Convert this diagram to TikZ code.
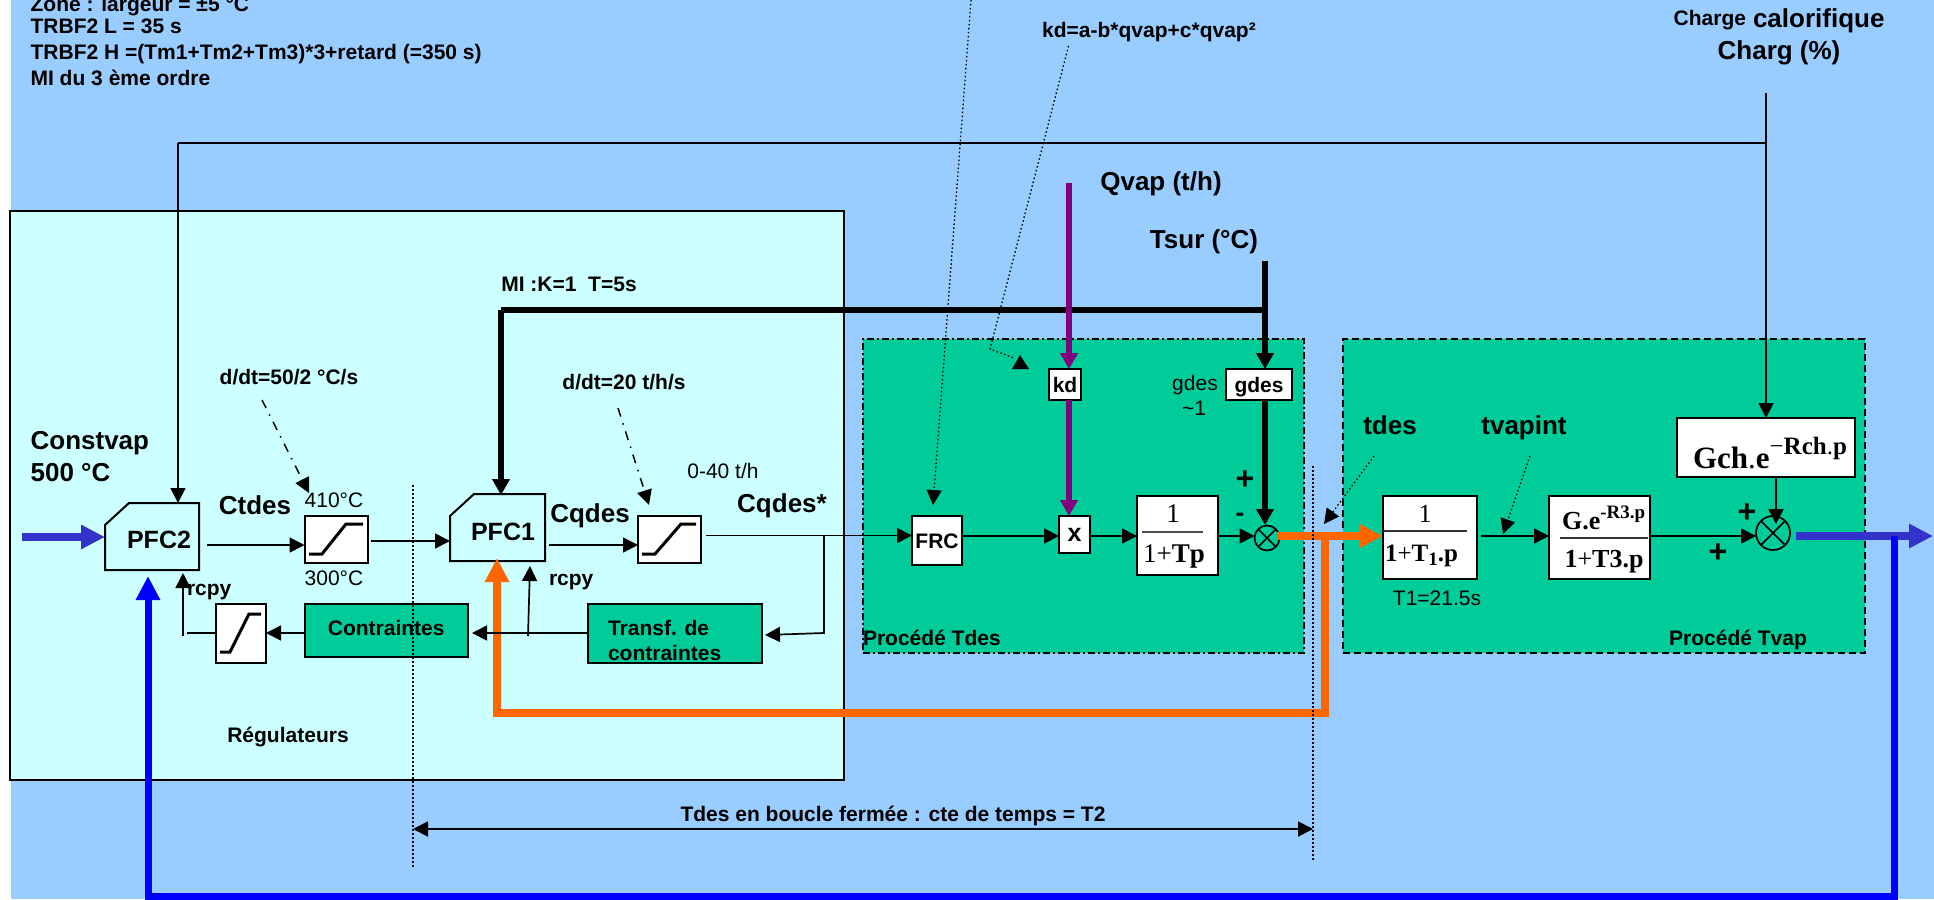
\documentclass[tikz,border=0pt]{standalone}
\usepackage{fontspec}
\setmainfont{Liberation Sans}
\newfontfamily\srf{Liberation Serif}
\usetikzlibrary{arrows.meta}
\definecolor{bgblue}{HTML}{99CCFF}
\definecolor{regcyan}{HTML}{CCFFFF}
\definecolor{procgreen}{HTML}{00CC99}
\definecolor{inblue}{HTML}{3333CC}
\definecolor{fbblue}{HTML}{0000FF}
\definecolor{orangeline}{HTML}{FF6600}
\definecolor{purpleline}{HTML}{800080}
\newcommand{\fs}[1]{\fontsize{#1}{#1}\selectfont}
\tikzset{
  x=1pt,y=-1pt,
  every node/.style={inner sep=0pt,outer sep=0pt},
  lab/.style={font=\fs{21}\bfseries,text height=15pt,text depth=0pt},
  big/.style={font=\fs{26}\bfseries,text height=19pt,text depth=0pt},
  reg/.style={font=\fs{21},text height=15pt,text depth=0pt},
  serif/.style={font=\fs{27}\srf,text height=18pt,text depth=0pt},
  sign/.style={font=\fs{32}\bfseries,text height=20pt,text depth=0pt},
  wbox/.style={draw=black,line width=2pt,fill=white},
  gbox/.style={draw=black,line width=2pt,fill=procgreen},
  thinar/.style={draw=black,line width=1.7pt,-{Triangle[length=15pt,width=15pt]}},
  thinln/.style={draw=black,line width=1.7pt},
  thickar/.style={draw=black,line width=5.5pt,-{Triangle[length=16pt,width=17pt]}},
  thickln/.style={draw=black,line width=5.5pt},
  purplear/.style={draw=purpleline,fill=purpleline,line width=6pt,-{Triangle[length=16pt,width=17pt]}},
  heavyar/.style={line width=8pt,-{Triangle[length=24pt,width=23pt]}},
  dotln/.style={draw=black,line width=1.3pt,dash pattern=on 1.5pt off 2.5pt},
  dotar/.style={dotln,-{Triangle[length=15pt,width=15pt]}},
  dashdotar/.style={draw=black,line width=1.5pt,dash pattern=on 9pt off 7pt on 1.5pt off 7pt,-{Triangle[length=15pt,width=15pt]}},
  rampline/.style={draw=black,line width=3pt},
  sumc/.style={draw=black,line width=1.7pt,circle},
}
\begin{document}
\begin{tikzpicture}
\useasboundingbox (0,0) rectangle (1934,899);
\fill[white] (0,0) rectangle (1934,899);
\fill[bgblue] (11,0) rectangle (1934,899);

% zones
\node[draw=black,line width=2pt,fill=regcyan,minimum width=834pt,minimum height=569pt] (regz) at (427,495.5) {};
\node[draw=black,fill=procgreen,line width=2pt,dash pattern=on 7pt off 3pt on 2pt off 3pt,minimum width=441pt,minimum height=314pt] (tdesz) at (1083.5,496) {};
\node[draw=black,fill=procgreen,line width=2pt,dash pattern=on 7pt off 4pt,minimum width=522pt,minimum height=314pt] (tvapz) at (1604,496) {};

% blocks
\node[minimum width=94pt,minimum height=67pt] (pfc2) at (152,536.5) {};
\node[minimum width=95pt,minimum height=67pt] (pfc1) at (497.5,527.5) {};
\draw[line width=2pt] (105,525) -- (129,503) -- (pfc2.north east) -- (pfc2.south east) -- (pfc2.south west) -- cycle;
\draw[line width=2pt] (450,516) -- (474,494) -- (pfc1.north east) -- (pfc1.south east) -- (pfc1.south west) -- cycle;
\node[big,font=\fs{25}\bfseries] (pfc2t) at (159,539) {PFC2};
\node[big,font=\fs{25}\bfseries] (pfc1t) at (503,531) {PFC1};
\node[wbox,minimum width=63.5pt,minimum height=47pt] (ramp1) at (336.25,539.5) {};
\node[wbox,minimum width=50pt,minimum height=59pt] (ramp2) at (241,633.5) {};
\node[wbox,minimum width=63pt,minimum height=47pt] (ramp3) at (669.5,539.5) {};
\draw[rampline] (309,554) -- (322,554) -- (346,524) -- (363,524);
\draw[rampline] (220,652) -- (230,652) -- (249,614) -- (261,614);
\draw[rampline] (642,554) -- (655,554) -- (681,524) -- (696,524);
\node[gbox,lab,minimum width=163.5pt,minimum height=53pt] (contr) at (386.25,630.5) {\raisebox{3pt}{Contraintes}};
\node[gbox,minimum width=174pt,minimum height=59pt] (transf) at (675,633.5) {};
\node[lab,anchor=west] (transft1) at (608,628) {Transf. de};
\node[lab,anchor=west] (transft2) at (608,653) {contraintes};
\node[wbox,lab,minimum width=50pt,minimum height=49pt] (frc) at (937,540.5) {FRC};
\node[wbox,font=\fs{25}\bfseries,minimum width=31pt,minimum height=37pt] (xb) at (1074.5,534.5) {x};
\node[wbox,minimum width=81pt,minimum height=79pt] (fracb) at (1177.5,535.5) {};
\node[wbox,lab,minimum width=66pt,minimum height=31pt] (gdesb) at (1259,384.5) {gdes};
\node[wbox,lab,minimum width=32pt,minimum height=31pt] (kdb) at (1065,384.5) {kd};
\node[wbox,minimum width=94pt,minimum height=83pt] (t1b) at (1430,537.5) {};
\node[wbox,minimum width=101pt,minimum height=83pt] (gb) at (1599.5,537.5) {};
\node[wbox,minimum width=178pt,minimum height=59pt] (gch) at (1766,447.5) {};
\node[sumc,minimum size=25pt] (s1) at (1267,538) {};
\draw[line width=1.5pt] (s1.45) -- (s1.225) (s1.135) -- (s1.315);
\node[sumc,minimum size=34pt] (s2) at (1773,533) {};
\draw[line width=1.5pt] (s2.45) -- (s2.225) (s2.135) -- (s2.315);

% formulas
\node[serif] (f1n) at (1173,513) {1};
\draw[line width=1.3pt,draw=black!70] (1142,532) -- (1203,532);
\node[serif] (f1d) at (1174,553) {1+\textbf{Tp}};
\node[serif,font=\fs{26}\srf] (f2n) at (1425,513) {1};
\draw[line width=1.3pt,draw=black!80] (1383,531) -- (1467,531);
\node[serif,font=\fs{25}\srf\bfseries,anchor=west] (f2d) at (1385,552) {1{\mdseries+}T\raisebox{-4pt}{\fs{19}1}.p};
\node[font=\fs{26}\srf\bfseries,anchor=base west] (f3n) at (1562,529) {G.e\raisebox{11pt}{\fs{19}-R3.p}};
\draw[line width=1.3pt,draw=black!80] (1560,538) -- (1648,538);
\node[serif,font=\fs{26}\srf\bfseries] (f3d) at (1604,558) {1{\mdseries+}T3.p};
\node[font=\fs{31}\srf\bfseries,anchor=base west] (f4) at (1693,468) {Gch{\mdseries.}e\raisebox{14pt}{\fs{25}{\mdseries−}Rch{\mdseries.}p}};

% heavy process lines
\coordinate (orj) at (1277,536);
\coordinate (ortee) at (1325,536);
\coordinate (orcorner) at (1325,712.5);
\coordinate (orleft) at (497,712.5);
\coordinate (ortip) at (497,558);
\draw[orangeline,heavyar] (orj) -- (t1b.west |- orj);
\draw[orangeline,heavyar] (ortee) -- (orcorner) -- (orleft) -- (ortip);

\coordinate (invin) at (22,537);
\draw[inblue,heavyar] (invin) -- (pfc2.west |- invin);
\coordinate (vout) at (1796,536);
\coordinate (voute) at (1933,536);
\draw[inblue,heavyar] (vout) -- (voute);
\coordinate (fbr) at (1894,536);
\coordinate (fbb) at (1894,896);
\coordinate (fbl) at (148,896);
\coordinate (fbt) at (148,576);
\draw[fbblue,heavyar,line width=7pt] (fbr) -- (fbb) -- (fbl) -- (fbt);

% thin connectors
\coordinate (chtop) at (1766,93);
\coordinate (chjoin) at (1766,143);
\coordinate (chleft) at (178,143);
\draw[thinln,line width=2pt] (chjoin) -- (chleft);
\draw[thinar] (chleft) -- (178,503);
\draw[thinar] (chtop) -- (gch.north -| chtop);
\coordinate (gchout) at (1776,477);
\draw[thinar] (gchout) -- (1776,524);
\coordinate (a1) at (206.5,545);
\draw[thinar] (a1) -- (ramp1.west |- a1);
\coordinate (a2) at (370.6,541);
\draw[thinar] (a2) -- (pfc1.west |- a2);
\coordinate (a3) at (549,545);
\draw[thinar] (a3) -- (ramp3.west |- a3);
\coordinate (a4) at (706,535.5);
\draw[thinar] (a4) -- (frc.west |- a4);
\coordinate (br) at (824,535.5);
\coordinate (brb) at (824,633);
\coordinate (brt) at (765,635);
\draw[thinar] (br) -- (brb) -- (brt);
\coordinate (a5) at (962,536);
\draw[thinar] (a5) -- (xb.west |- a5);
\coordinate (a6) at (1090,536);
\draw[thinar] (a6) -- (fracb.west |- a6);
\coordinate (a7) at (1218,536);
\draw[thinar] (a7) -- (s1.west |- a7);
\coordinate (a8) at (1480.5,536);
\draw[thinar] (a8) -- (gb.west |- a8);
\coordinate (a9) at (1650,536);
\draw[thinar] (a9) -- (s2.west |- a9);
\coordinate (c1) at (472,633);
\draw[thinar] (transf.west |- c1) -- (c1);
\coordinate (c2) at (266,633);
\draw[thinar] (contr.west |- c2) -- (c2);
\coordinate (c3) at (186.5,633);
\draw[thinln] (ramp2.west |- c3) -- (c3);
\coordinate (r2a) at (183,636);
\draw[thinar] (r2a) -- (183,573);
\coordinate (r1a) at (528,636);
\coordinate (r1b) at (530,566);
\draw[thinar] (r1a) -- (r1b);

% thick lines
\coordinate (tsur) at (1265,261);
\coordinate (tsj) at (1265,310);
\coordinate (tsl) at (501,310);
\draw[thickln] (tsj) -- (tsl);
\draw[thickar] (tsl) -- (501,495);
\draw[thickar] (tsur) -- (gdesb.north -| tsur);
\draw[thickar] (gdesb.south -| tsur) -- (1265,525);
\coordinate (qv) at (1069,183);
\draw[purplear] (qv) -- (kdb.north -| qv);
\draw[purplear] (kdb.south -| qv) -- (xb.north -| qv);

% dotted
\coordinate (k1) at (1068.5,46);
\coordinate (k2) at (990,349);
\coordinate (k3) at (1014,358);
\draw[dotln] (k1) -- (k2) -- (k3);
\fill (1020,355) -- (1029,369) -- (1012,369) -- cycle;
\coordinate (f1) at (971,0);
\coordinate (f2) at (933,505);
\draw[dotar] (f1) -- (f2);
\coordinate (t1) at (1374,456);
\coordinate (t2) at (1324,524);
\draw[dotar] (t1) -- (t2);
\coordinate (v1) at (1530,456);
\coordinate (v2) at (1503,534);
\draw[dotar] (v1) -- (v2);
\coordinate (dl1) at (413,485);
\coordinate (dl2) at (413,867);
\draw[dotln] (dl1) -- (dl2);
\coordinate (dr1) at (1313,466);
\coordinate (dr2) at (1313,860);
\draw[dotln] (dr1) -- (dr2);
\draw[thinln,line width=2pt,{Triangle[length=15pt,width=15pt]}-{Triangle[length=15pt,width=15pt]}] (dl1 |- 0,829) -- (dr1 |- 0,829);
\coordinate (dd1) at (262,400);
\coordinate (dd2) at (309,493);
\draw[dashdotar] (dd1) -- (dd2);
\coordinate (dd3) at (618,408);
\coordinate (dd4) at (649,505);
\draw[dashdotar] (dd3) -- (dd4);

% labels
\node[lab,anchor=west] (z0) at (30.6,4) {Zone : largeur = ±5 °C};
\node[lab,anchor=west] (z1) at (30.6,26) {TRBF2 L = 35 s};
\node[lab,anchor=west] (z2) at (30.6,52) {TRBF2 H =(Tm1+Tm2+Tm3)*3+retard (=350 s)};
\node[lab,anchor=west] (z3) at (30.6,78) {MI du 3 ème ordre};
\node[lab] (mi) at (569,284) {MI :K=1\ \ T=5s};
\node[lab] (d1) at (289,377) {d/dt=50/2 °C/s};
\node[lab] (d2) at (624,382) {d/dt=20 t/h/s};
\node[big,anchor=west] (cv1) at (30.6,440) {Constvap};
\node[big,anchor=west] (cv2) at (30.6,472) {500 °C};
\node[big] (ctd) at (255,505) {Ctdes};
\node[reg] (t410) at (334,500) {410°C};
\node[reg] (t300) at (334,578) {300°C};
\node[big] (cqd) at (590,513) {Cqdes};
\node[reg] (t040) at (723,471) {0-40 t/h};
\node[big] (cqs) at (782,503) {Cqdes*};
\node[lab,anchor=west] (rc2) at (187,588) {rcpy};
\node[lab,anchor=west] (rc1) at (549,578) {rcpy};
\node[lab] (regt) at (288,735) {Régulateurs};
\node[lab] (tb) at (893,814) {Tdes en boucle fermée : cte de temps = T2};
\node[lab] (kdf) at (1149,30) {kd=a-b*qvap+c*qvap²};
\node[big] (qvt) at (1161,181) {Qvap (t/h)};
\node[big] (tst) at (1204,239) {Tsur (°C)};
\node[anchor=base east,font=\fs{21}\bfseries] (ch1) at (1746,26) {Charge};
\node[anchor=base west,font=\fs{26}\bfseries] (ch2) at (1753,28) {calorifique};
\node[big] (ch3) at (1779,50) {Charg (\%)};
\node[reg] (gd1) at (1195,383) {gdes};
\node[reg] (gd2) at (1194,408) {\textasciitilde 1};
\node[sign] (p1) at (1245,479) {+};
\node[lab,font=\fs{26}\bfseries] (m1) at (1240,514) {-};
\node[big] (tdt) at (1390,425) {tdes};
\node[big] (tvt) at (1524,425) {tvapint};
\node[reg] (t1t) at (1437,598) {T1=21.5s};
\node[sign] (p2) at (1747,512) {+};
\node[sign] (p3) at (1718,552) {+};
\node[lab,anchor=west] (ptd) at (863,638) {Procédé Tdes};
\node[lab] (ptv) at (1738,638) {Procédé Tvap};
\end{tikzpicture}
\end{document}
